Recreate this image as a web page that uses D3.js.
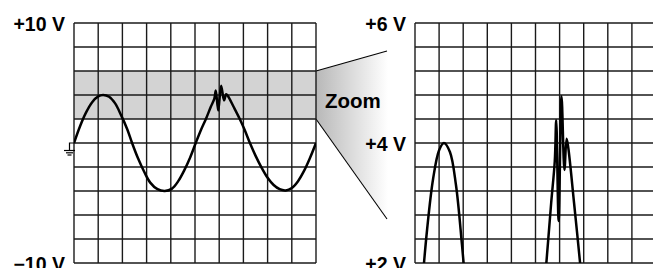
<!DOCTYPE html>
<html>
<head>
<meta charset="utf-8">
<script src="https://cdn.jsdelivr.net/npm/d3@7"></script>
<style>
  body { margin: 0; background: #fff; }
  text { font-family: "Liberation Sans", Arial, sans-serif; font-weight: bold; fill: #000; }
</style>
</head>
<body>
<svg id="chart"></svg>
<script>
// waveform: time in divisions, level in volts
const timeDivs = [0, 0.25, 0.5, 0.75, 1.0, 1.2, 1.45, 1.7, 1.95, 2.2, 2.4, 2.65, 2.9, 3.15, 3.45,
  3.75, 4.05, 4.3, 4.55, 4.8, 5.03, 5.25, 5.45, 5.65, 5.8, 5.86, 5.96, 6.08, 6.2, 6.29, 6.36,
  6.6, 6.85, 7.05, 7.27, 7.5, 7.75, 8.0, 8.25, 8.5, 8.75, 9.0, 9.25, 9.5, 9.75, 10];
const volts = [0, 1.4, 2.55, 3.4, 3.88, 4.0, 3.85, 3.3, 2.3, 1.15, 0, -1.3, -2.4, -3.3, -3.85,
  -4.0, -3.8, -3.2, -2.3, -1.2, 0, 1.1, 2.0, 3.0, 3.7, 4.38, 2.7, 4.78, 3.55, 4.07, 3.92,
  3.0, 2.0, 1.1, 0, -1.05, -2.05, -2.9, -3.5, -3.85, -3.95, -3.75, -3.2, -2.35, -1.25, 0];

const fullRange = [-10, 10];
const zoomRange = [2, 6];
const fullLabels = [{ v: 10, label: '+10 V' }, { v: -10, label: '\u221210 V' }];
const zoomLabels = [{ v: 6, label: '+6 V' }, { v: 4, label: '+4 V' }, { v: 2, label: '+2 V' }];
const divisions = 10;

const width = 653;
const height = 268;
const gridTop = 23, gridBottom = 263;

const svg = d3.select('#chart')
  .attr('width', width)
  .attr('height', height);

const data = timeDivs.map((t, i) => ({ t: t, v: volts[i] }));

const xL = d3.scaleLinear().domain([0, divisions]).range([74, 316]);
const yL = d3.scaleLinear().domain(fullRange).range([gridBottom, gridTop]);
const xR = d3.scaleLinear().domain([0, divisions]).range([415, 656]);
const yR = d3.scaleLinear().domain(zoomRange).range([gridBottom, gridTop]);

const defs = svg.append('defs');
const grad = defs.append('linearGradient')
  .attr('id', 'cone')
  .attr('gradientUnits', 'userSpaceOnUse')
  .attr('x1', xL(divisions)).attr('x2', 388)
  .attr('y1', 0).attr('y2', 0);
grad.append('stop').attr('offset', 0).attr('stop-color', '#b8b8b8');
grad.append('stop').attr('offset', 1).attr('stop-color', '#fff');

function panel(x, y, clipId, labels, band) {
  const g = svg.append('g');
  const [x0, x1] = x.range();
  const [d0, d1] = y.domain();

  defs.append('clipPath').attr('id', clipId)
    .append('rect')
      .attr('x', x0).attr('y', gridTop)
      .attr('width', x1 - x0).attr('height', gridBottom - gridTop);

  if (band) {
    g.append('rect')
      .attr('x', x0)
      .attr('y', y(band[1]))
      .attr('width', x1 - x0)
      .attr('height', y(band[0]) - y(band[1]))
      .attr('fill', '#d3d3d3');
  }

  const xs = d3.range(divisions + 1);
  const ys = d3.range(divisions + 1).map(i => d0 + i * (d1 - d0) / divisions);

  g.selectAll('.vline')
    .data(xs)
    .enter().append('line')
      .attr('x1', d => x(d)).attr('x2', d => x(d))
      .attr('y1', gridTop).attr('y2', gridBottom)
      .attr('stroke', '#1a1a1a')
      .attr('stroke-width', 1.4);

  g.selectAll('.hline')
    .data(ys)
    .enter().append('line')
      .attr('x1', x0).attr('x2', x1)
      .attr('y1', d => y(d)).attr('y2', d => y(d))
      .attr('stroke', '#1a1a1a')
      .attr('stroke-width', 1.4);

  const line = d3.line()
    .x(d => x(d.t))
    .y(d => y(d.v))
    .curve(d3.curveCatmullRom.alpha(0.5));

  g.append('path')
    .datum(data)
    .attr('clip-path', `url(#${clipId})`)
    .attr('d', line)
    .attr('fill', 'none')
    .attr('stroke', '#000')
    .attr('stroke-width', 2.5)
    .attr('stroke-linejoin', 'round');

  g.selectAll('.lbl')
    .data(labels)
    .enter().append('text')
      .attr('x', x0 - 9)
      .attr('y', d => y(d.v) + 7.5)
      .attr('text-anchor', 'end')
      .style('font-size', '19.5px')
      .text(d => d.label);

  return g;
}

// zoom cone between the panels
const bx = xL(divisions);
svg.append('path')
  .attr('d', `M${bx},${yL(zoomRange[1])}L388,51L388,219L${bx},${yL(zoomRange[0])}Z`)
  .attr('fill', 'url(#cone)');
svg.append('line')
  .attr('x1', bx).attr('y1', yL(zoomRange[1]))
  .attr('x2', 387).attr('y2', 51)
  .attr('stroke', '#000').attr('stroke-width', 1.1);
svg.append('line')
  .attr('x1', bx).attr('y1', yL(zoomRange[0]))
  .attr('x2', 387).attr('y2', 219)
  .attr('stroke', '#000').attr('stroke-width', 1.1);

panel(xL, yL, 'clipL', fullLabels, zoomRange);
panel(xR, yR, 'clipR', zoomLabels, null);

svg.append('text')
  .attr('x', 325)
  .attr('y', 108)
  .style('font-size', '20.5px')
  .text('Zoom');

// ground marker at 0 V
const gy = yL(0);
const ground = svg.append('g')
  .attr('stroke', '#000')
  .attr('stroke-width', 1.2);
ground.append('path').attr('d', `M${xL(0)},${gy}H69.5V${gy + 7.5}`).attr('fill', 'none');
ground.append('line').attr('x1', 64).attr('x2', 75).attr('y1', gy + 7.5).attr('y2', gy + 7.5);
ground.append('line').attr('x1', 66).attr('x2', 73).attr('y1', gy + 9.8).attr('y2', gy + 9.8);
ground.append('line').attr('x1', 67.5).attr('x2', 71.5).attr('y1', gy + 12).attr('y2', gy + 12);
</script>
</body>
</html>
